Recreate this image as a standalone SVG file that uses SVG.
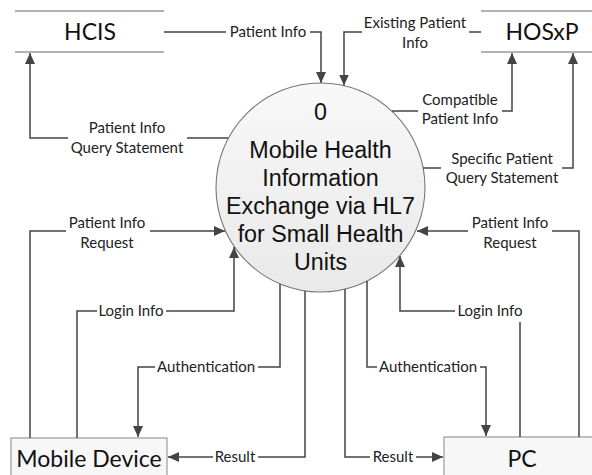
<svg xmlns="http://www.w3.org/2000/svg" width="592" height="475" viewBox="0 0 592 475">
<style>
.flow{fill:none;stroke:#444;stroke-width:1.5}
.bg{fill:#fff}
.lbl{font-family:Lato,"Liberation Sans",sans-serif;font-size:15px;fill:#222;text-anchor:middle}
.big{font-family:Lato,"Liberation Sans",sans-serif;font-size:23px;fill:#111;text-anchor:middle}
.proc{font-family:"Liberation Sans",Arial,sans-serif;font-size:23.3px;fill:#111;text-anchor:middle}
.store{stroke:#9a9a9a;stroke-width:1.6}
.ext{fill:#f7f7f7;stroke:#999;stroke-width:1.2}
</style>
<defs>
<linearGradient id="cg" x1="0" y1="0" x2="0" y2="1">
<stop offset="0" stop-color="#f8f8f8"/>
<stop offset="1" stop-color="#e9e9e9"/>
</linearGradient>
<marker id="ah" markerUnits="userSpaceOnUse" markerWidth="12" markerHeight="10" refX="11" refY="5" orient="auto">
<path d="M0,0 L11,5 L0,10 Z" fill="#444"/>
</marker>
</defs>

<g id="hcis">
<line class="store" x1="15" y1="11" x2="164" y2="11"/>
<line class="store" x1="15" y1="52" x2="164" y2="52"/>
<text class="big" x="90" y="40">HCIS</text>
</g>

<g id="hosxp">
<line class="store" x1="481" y1="11" x2="592" y2="11"/>
<line class="store" x1="481" y1="52" x2="592" y2="52"/>
<text class="big" x="542" y="40">HOSxP</text>
</g>

<g id="mobile-device">
<rect class="ext" x="11" y="438" width="156" height="50"/>
<text class="big" x="89" y="467">Mobile Device</text>
</g>

<g id="pc">
<rect class="ext" x="444" y="437" width="160" height="50"/>
<text class="big" x="522" y="467">PC</text>
</g>

<g id="process-0">
<circle cx="320.5" cy="187.5" r="104.5" fill="url(#cg)" stroke="#777" stroke-width="1.1"/>
<text class="proc" x="320.5" y="120">0</text>
<text class="proc" x="320.5" y="158">Mobile Health</text>
<text class="proc" x="320.5" y="186">Information</text>
<text class="proc" x="320.5" y="214">Exchange via HL7</text>
<text class="proc" x="320.5" y="242">for Small Health</text>
<text class="proc" x="320.5" y="270">Units</text>
</g>

<g id="connectors">
<path class="flow" d="M164,32 H321 V83" marker-end="url(#ah)"/>
<path class="flow" d="M481,32 H344 V85.5" marker-end="url(#ah)"/>
<path class="flow" d="M392,111 H512 V53" marker-end="url(#ah)"/>
<path class="flow" d="M423,168 H573 V53" marker-end="url(#ah)"/>
<path class="flow" d="M228,138 H30 V53" marker-end="url(#ah)"/>
<path class="flow" d="M30,438 V231 H225" marker-end="url(#ah)"/>
<path class="flow" d="M77,438 V311 H234 V247" marker-end="url(#ah)"/>
<path class="flow" d="M280,284 V367 H138 V437" marker-end="url(#ah)"/>
<path class="flow" d="M305,291 V457 H168" marker-end="url(#ah)"/>
<path class="flow" d="M345,289 V457 H443" marker-end="url(#ah)"/>
<path class="flow" d="M367,281 V367 H486 V436" marker-end="url(#ah)"/>
<path class="flow" d="M520,437 V311 H400 V256" marker-end="url(#ah)"/>
<path class="flow" d="M579,437 V231 H417" marker-end="url(#ah)"/>

<rect class="bg" x="226" y="24" width="84" height="17"/>
<rect class="bg" x="362" y="14" width="107" height="38"/>
<rect class="bg" x="418" y="91" width="84" height="38"/>
<rect class="bg" x="441" y="150" width="121" height="38"/>
<rect class="bg" x="68" y="119" width="119" height="38"/>
<rect class="bg" x="66" y="214" width="84" height="38"/>
<rect class="bg" x="97" y="303" width="69" height="17"/>
<rect class="bg" x="155" y="359" width="103" height="17"/>
<rect class="bg" x="213" y="449" width="45" height="17"/>
<rect class="bg" x="370" y="449" width="46" height="17"/>
<rect class="bg" x="377" y="359" width="103" height="17"/>
<rect class="bg" x="455" y="303" width="70" height="19"/>
<rect class="bg" x="468" y="214" width="84" height="38"/>

<text class="lbl" x="268" y="37">Patient Info</text>
<text class="lbl" x="415" y="28">Existing Patient</text>
<text class="lbl" x="415" y="48">Info</text>
<text class="lbl" x="460" y="105">Compatible</text>
<text class="lbl" x="460" y="124">Patient Info</text>
<text class="lbl" x="502" y="164">Specific Patient</text>
<text class="lbl" x="502" y="183">Query Statement</text>
<text class="lbl" x="127" y="133">Patient Info</text>
<text class="lbl" x="127" y="153">Query Statement</text>
<text class="lbl" x="107" y="228">Patient Info</text>
<text class="lbl" x="107" y="248">Request</text>
<text class="lbl" x="131" y="316">Login Info</text>
<text class="lbl" x="206" y="372">Authentication</text>
<text class="lbl" x="235" y="462">Result</text>
<text class="lbl" x="393" y="462">Result</text>
<text class="lbl" x="428" y="372">Authentication</text>
<text class="lbl" x="490" y="316">Login Info</text>
<text class="lbl" x="510" y="228">Patient Info</text>
<text class="lbl" x="510" y="248">Request</text>
</g>
</svg>
